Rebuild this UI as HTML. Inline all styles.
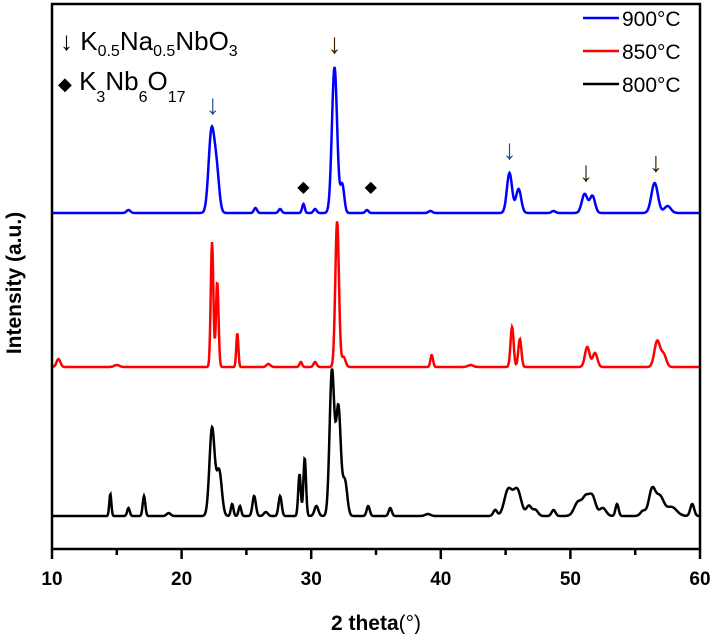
<!DOCTYPE html>
<html><head><meta charset="utf-8"><style>
body{margin:0;background:#fff;}
svg{font-family:"Liberation Sans",Arial,sans-serif;}
</style></head><body>
<svg id="chart" width="713" height="634" viewBox="0 0 713 634">
<g id="series"></g>
<rect x="52" y="4" width="648" height="545" fill="none" stroke="#000" stroke-width="2.5"/>
<g id="ticks"></g>
<text x="376" y="630" text-anchor="middle" font-size="21" font-weight="bold">2 theta<tspan font-weight="normal">(°)</tspan></text>
<text transform="translate(21,283) rotate(-90)" text-anchor="middle" font-size="21" font-weight="bold">Intensity (a.u.)</text>
<g font-size="21">
<line x1="583" y1="18" x2="619" y2="18" stroke="#00f" stroke-width="2.5"/>
<text x="622" y="26">900°C</text>
<line x1="583" y1="51" x2="619" y2="51" stroke="#f00" stroke-width="2.5"/>
<text x="622" y="59">850°C</text>
<line x1="583" y1="84" x2="619" y2="84" stroke="#000" stroke-width="2.5"/>
<text x="622" y="92">800°C</text>
</g>
<g font-size="26">
<text x="60" y="50">↓ K<tspan font-size="16" dy="6">0.5</tspan><tspan dy="-6">Na</tspan><tspan font-size="16" dy="6">0.5</tspan><tspan dy="-6">NbO</tspan><tspan font-size="16" dy="6">3</tspan></text>
<text x="58" y="90"><tspan font-size="18">◆</tspan> K<tspan font-size="16" dy="12">3</tspan><tspan dy="-12">Nb</tspan><tspan font-size="16" dy="12">6</tspan><tspan dy="-12">O</tspan><tspan font-size="16" dy="12">17</tspan></text>
</g>
<g id="marks"></g>
</svg>
<script>
const xTicks=[10,20,30,40,50,60];
const baselines=[213,367,516];
const colors=["#0000ff","#ff0000","#000000"];
const names=["900","850","800"];
// peaks: [position (2θ), height (a.u.), width sigma]
const peaks900=[[15.9,3,.15],[22.3,80,.22],[22.7,40,.2],[25.7,5,.12],[27.6,4,.12],[29.4,9,.1],[30.3,4,.12],[31.8,146,.2],[32.4,28,.15],[34.3,3,.12],[39.2,2,.15],[45.3,40,.2],[46.0,24,.2],[48.7,2,.15],[51.1,19,.22],[51.7,17,.2],[56.5,30,.25],[57.5,7,.25]];
const peaks850=[[10.5,8,.15],[15.0,2,.2],[22.35,125,.1],[22.75,85,.1],[24.3,34,.08],[26.7,3,.15],[29.2,5,.1],[30.3,5,.12],[32.0,146,.14],[32.5,10,.15],[39.3,12,.1],[42.3,2,.2],[45.5,40,.12],[46.1,28,.12],[51.3,20,.18],[51.9,14,.18],[56.7,26,.22],[57.2,12,.2]];
const peaks800=[[14.5,22,.08],[15.9,8,.1],[17.1,20,.1],[19.0,3,.15],[22.35,88,.2],[22.9,45,.2],[23.9,12,.1],[24.5,10,.1],[25.6,20,.13],[26.5,4,.15],[27.6,20,.12],[29.1,42,.1],[29.5,58,.1],[30.4,10,.15],[31.6,145,.18],[32.1,108,.18],[32.6,35,.18],[34.4,10,.12],[36.1,8,.12],[39.0,2,.2],[44.2,6,.15],[45.2,26,.3],[45.9,26,.3],[46.8,10,.2],[47.3,6,.2],[48.7,6,.15],[50.6,14,.3],[51.2,17,.25],[51.7,19,.25],[52.5,8,.25],[53.6,12,.12],[55.6,5,.2],[56.3,26,.25],[56.9,19,.3],[57.8,9,.4],[59.4,12,.15]];
const allPeaks=[peaks900,peaks850,peaks800];
const knnMarks=[[22.4,0],[31.8,1],[45.3,0],[51.2,1],[56.6,1]];
const k3Marks=[29.4,34.6];
const X0=52,X1=700,YB=549;
function xs(v){return X0+(v-10)/(60-10)*(X1-X0);}
const NS="http://www.w3.org/2000/svg";
const sg=document.getElementById('series');
allPeaks.forEach((pk,i)=>{
  let d="";
  for(let px=X0;px<=X1;px+=0.5){
    const t=10+(px-X0)/(X1-X0)*50;
    let h=0;pk.forEach(p=>{h+=p[1]*Math.exp(-((t-p[0])**2)/(2*p[2]*p[2]));});
    d+=(d?"L":"M")+px.toFixed(1)+","+(baselines[i]-h).toFixed(1);
  }
  const path=document.createElementNS(NS,'path');
  path.setAttribute('d',d);path.setAttribute('fill','none');
  path.setAttribute('stroke',colors[i]);path.setAttribute('stroke-width','2.5');
  
  
  sg.appendChild(path);
});
const tg=document.getElementById('ticks');
for(let v=10;v<=60;v+=5){
  const l=document.createElementNS(NS,'line');
  l.setAttribute('x1',xs(v));l.setAttribute('x2',xs(v));
  l.setAttribute('y1',YB);l.setAttribute('y2',YB+(v%10==0?10:6));
  l.setAttribute('stroke','#000');l.setAttribute('stroke-width','2.5');
  
  
  tg.appendChild(l);
}
xTicks.forEach(v=>{
  const t=document.createElementNS(NS,'text');
  t.setAttribute('x',xs(v));t.setAttribute('y',585);
  t.setAttribute('text-anchor','middle');t.setAttribute('font-size','19');t.setAttribute('font-weight','bold');
  t.textContent=v;
  
  
  tg.appendChild(t);
});
const mg=document.getElementById('marks');
knnMarks.forEach(m=>{
  let h=0;peaks900.forEach(p=>{h+=p[1]*Math.exp(-((m[0]-p[0])**2)/(2*p[2]*p[2]));});
  const t=document.createElementNS(NS,'text');
  t.setAttribute('x',xs(m[0]));t.setAttribute('y',baselines[0]-h-14);
  t.setAttribute('text-anchor','middle');t.setAttribute('font-size','28');
  t.setAttribute('fill',m[1]?'#3a2000':'#1f4f8f');
  t.textContent='↓';
  
  
  mg.appendChild(t);
});
k3Marks.forEach(v=>{
  const t=document.createElementNS(NS,'text');
  t.setAttribute('x',xs(v));t.setAttribute('y',192);
  t.setAttribute('text-anchor','middle');t.setAttribute('font-size','16');
  t.textContent='◆';
  
  
  mg.appendChild(t);
});
</script>
</body></html>
